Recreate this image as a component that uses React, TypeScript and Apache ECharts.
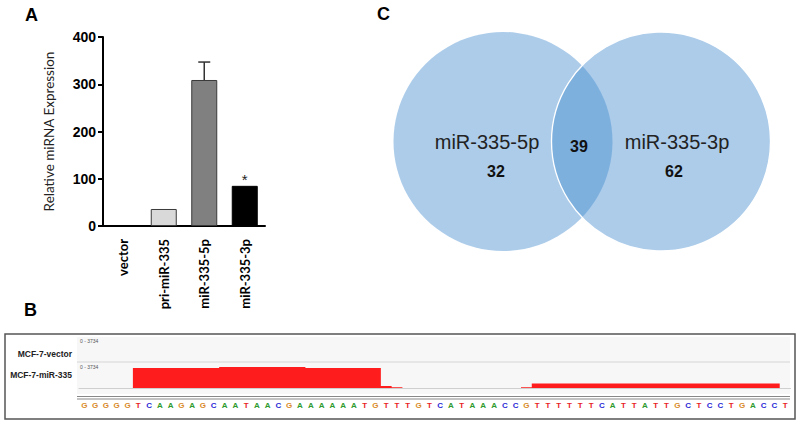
import React, { useEffect, useRef } from "react";
import * as echarts from "echarts";

// ---- Panel A data ----
const categoriesA = ["vector", "pri-miR-335", "miR-335-5p", "miR-335-3p"];
const expressionA = [0, 36, 309, 85];
const errorUpperA = [null, null, 347, null];
const sigMarksA = ["", "", "", "*"];
const yTicksA = [0, 100, 200, 300, 400];

// ---- Panel B data ----
const bases = [
  "G","G","G","G","G","T","C","A","A","G","A","G","C","A","A","T","A","A","C","G","A","A",
  "A","A","A","A","T","G","T","T","T","G","T","C","A","T","A","A","A","C","C","G","T","T",
  "T","T","T","T","C","A","T","T","A","T","T","G","C","T","C","C","T","G","A","C","C","T",
];
const coverageMiR335 = [
  0, 0, 0, 0, 0,
  3560, 3560, 3560, 3560, 3560, 3560, 3560, 3560,
  3734, 3734, 3734, 3734, 3734, 3734, 3734, 3734,
  3560, 3560, 3560, 3560, 3560, 3560, 3560,
  350, 130,
  0, 0, 0, 0, 0, 0, 0, 0, 0, 0, 0,
  150,
  820, 820, 820, 820, 820, 820, 820, 820, 820, 820, 820, 820,
  820, 820, 820, 820, 820, 820, 820, 820, 820, 820, 820,
  0,
];
const trackNames = ["MCF-7-vector", "MCF-7-miR-335"];
const trackRange = "0 - 3734";
const coverageMax = 3734;

// ---- Panel C data ----
const vennSets = ["miR-335-5p", "miR-335-3p"];
const vennOnly = [32, 62];
const vennShared = 39;

const barColors = ["#d9d9d9", "#d9d9d9", "#808080", "#000000"];
const baseColors: Record<string, string> = { A: "#2e9a2e", C: "#2b2bd6", G: "#d98a2a", T: "#e8231f" };
const covColor = "#ff1c1c";

export default function App() {
  const ref = useRef<HTMLDivElement>(null);
  useEffect(() => {
    if (!ref.current) return;
    const chart = echarts.init(ref.current, null, { renderer: "svg" });
    const rich: Record<string, any> = {};
    Object.keys(baseColors).forEach((b) => {
      rich[b] = { color: baseColors[b], fontSize: 8, fontWeight: "bold", fontFamily: "Liberation Sans" };
    });
    const option: any = {
      animation: false,
      backgroundColor: "#ffffff",
      grid: [
        { left: 103, top: 37, width: 162, height: 189 },
        { left: 79, top: 367, width: 711.5, height: 21 },
      ],
      xAxis: [
        {
          type: "category",
          gridIndex: 0,
          data: categoriesA,
          axisLine: { lineStyle: { color: "#000", width: 2 } },
          axisTick: { alignWithLabel: true, length: 5, lineStyle: { color: "#000", width: 2 } },
          axisLabel: {
            rotate: 90,
            margin: 13,
            color: "#000",
            fontFamily: "Lato",
            fontWeight: "bold",
            fontSize: 13,
            interval: 0,
          },
        },
        {
          type: "category",
          gridIndex: 1,
          data: bases,
          axisLine: { lineStyle: { color: "#cfcfcf", width: 1 } },
          axisTick: { show: false },
          axisLabel: {
            interval: 0,
            margin: 13,
            formatter: (v: string) => `{${v}|${v}}`,
            rich,
          },
        },
      ],
      yAxis: [
        {
          type: "value",
          gridIndex: 0,
          min: 0,
          max: 400,
          interval: 100,
          name: "Relative miRNA Expression",
          nameLocation: "middle",
          nameRotate: 90,
          nameGap: 47,
          nameTextStyle: { fontFamily: "Lato", fontSize: 13.5, color: "#222" },
          splitLine: { show: false },
          axisLine: { show: true, lineStyle: { color: "#000", width: 2 } },
          axisTick: { show: true, length: 5, lineStyle: { color: "#000", width: 2 } },
          axisLabel: {
            margin: 7,
            color: "#000",
            fontFamily: "Liberation Sans",
            fontWeight: "bold",
            fontSize: 14,
            formatter: (v: number) => (yTicksA.includes(v) ? String(v) : ""),
          },
        },
        {
          type: "value",
          gridIndex: 1,
          min: 0,
          max: coverageMax,
          show: false,
          splitLine: { show: false },
        },
      ],
      series: [
        {
          type: "bar",
          xAxisIndex: 0,
          yAxisIndex: 0,
          barWidth: 26,
          data: expressionA.map((v, i) => ({
            value: v,
            itemStyle: {
              color: barColors[i],
              borderColor: i === 3 ? "#000" : "#3a3a3a",
              borderWidth: v > 0 ? 1 : 0,
            },
          })),
          label: {
            show: true,
            position: "top",
            distance: -1,
            fontSize: 15,
            color: "#222",
            fontFamily: "Liberation Sans",
            formatter: (p: any) => sigMarksA[p.dataIndex],
          },
          z: 2,
        },
        {
          type: "custom",
          xAxisIndex: 0,
          yAxisIndex: 0,
          data: expressionA
            .map((v, i) => [i, v, errorUpperA[i]])
            .filter((d) => d[2] !== null),
          renderItem: (params: any, api: any) => {
            const base = api.coord([api.value(0), api.value(1)]);
            const top = api.coord([api.value(0), api.value(2)]);
            return {
              type: "group",
              children: [
                { type: "line", shape: { x1: base[0], y1: base[1], x2: top[0], y2: top[1] }, style: { stroke: "#333", lineWidth: 1.5 } },
                { type: "line", shape: { x1: top[0] - 6, y1: top[1], x2: top[0] + 6, y2: top[1] }, style: { stroke: "#333", lineWidth: 1.5 } },
              ],
            };
          },
          z: 1,
        },
        {
          type: "line",
          xAxisIndex: 1,
          yAxisIndex: 1,
          step: "middle",
          symbol: "none",
          data: coverageMiR335,
          lineStyle: { width: 0, opacity: 0 },
          areaStyle: { color: covColor, opacity: 1 },
          z: 3,
        },
      ],
      graphic: [
        // panel letters
        { type: "text", left: 25, top: 6, style: { text: "A", font: "bold 18px 'Liberation Sans'", fill: "#000" } },
        { type: "text", left: 24, top: 301, style: { text: "B", font: "bold 18px 'Liberation Sans'", fill: "#000" } },
        { type: "text", left: 377, top: 5, style: { text: "C", font: "bold 18px 'Liberation Sans'", fill: "#000" } },
        // panel B frame
        { type: "rect", shape: { x: 5, y: 334, width: 790, height: 85 }, style: { fill: "none", stroke: "#555", lineWidth: 1.5 }, z: 0 },
        { type: "rect", shape: { x: 77, y: 337, width: 713, height: 57 }, style: { fill: "#f7f7f7" }, z: -1 },
        { type: "line", shape: { x1: 77, y1: 362, x2: 790, y2: 362 }, style: { stroke: "#d5d5d5", lineWidth: 1 } },
        { type: "line", shape: { x1: 77, y1: 396.5, x2: 790, y2: 396.5 }, style: { stroke: "#888", lineWidth: 1.2 } },
        { type: "line", shape: { x1: 77, y1: 399, x2: 790, y2: 399 }, style: { stroke: "#888", lineWidth: 1.2 } },
        { type: "text", x: 80, y: 338, style: { text: trackRange, font: "5px 'Liberation Sans'", fill: "#555" } },
        { type: "text", x: 80, y: 364, style: { text: trackRange, font: "5px 'Liberation Sans'", fill: "#555" } },
        { type: "text", x: 72, y: 354, style: { text: trackNames[0], font: "bold 8.5px 'Liberation Sans'", fill: "#222", align: "right", verticalAlign: "middle" } },
        { type: "text", x: 72, y: 375, style: { text: trackNames[1], font: "bold 8.5px 'Liberation Sans'", fill: "#222", align: "right", verticalAlign: "middle" } },
        // panel C venn
        { type: "circle", shape: { cx: 503, cy: 141.5, r: 109.5 }, style: { fill: "rgba(69,141,208,0.446)" }, z: 1 },
        { type: "circle", shape: { cx: 661, cy: 141.5, r: 109.5 }, style: { fill: "rgba(69,141,208,0.446)", stroke: "#ffffff", lineWidth: 1.3 }, z: 2 },
        { type: "text", x: 487, y: 142, style: { text: vennSets[0], font: "20px 'Liberation Sans'", fill: "#222", align: "center", verticalAlign: "middle" }, z: 5 },
        { type: "text", x: 677, y: 142, style: { text: vennSets[1], font: "20px 'Liberation Sans'", fill: "#222", align: "center", verticalAlign: "middle" }, z: 5 },
        { type: "text", x: 496, y: 171, style: { text: String(vennOnly[0]), font: "bold 16px 'Liberation Sans'", fill: "#111", align: "center", verticalAlign: "middle" }, z: 5 },
        { type: "text", x: 674, y: 171, style: { text: String(vennOnly[1]), font: "bold 16px 'Liberation Sans'", fill: "#111", align: "center", verticalAlign: "middle" }, z: 5 },
        { type: "text", x: 579, y: 146, style: { text: String(vennShared), font: "bold 16px 'Liberation Sans'", fill: "#111", align: "center", verticalAlign: "middle" }, z: 5 },
      ],
    };
    chart.setOption(option);
    return () => chart.dispose();
  }, []);
  return <div ref={ref} style={{ position: "fixed", left: 0, top: 0, width: 800, height: 427 }} />;
}
